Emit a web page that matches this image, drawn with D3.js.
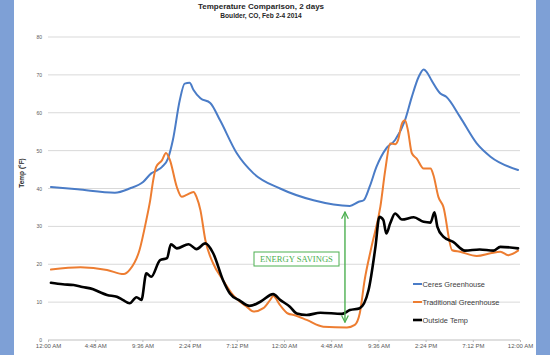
<!DOCTYPE html>
<html><head><meta charset="utf-8">
<script src="https://cdn.jsdelivr.net/npm/d3@7"></script>
<style>html,body{margin:0;padding:0;background:#7ea0d6;}svg{display:block;}</style>
</head><body>
<script>
const xTickLabels = ["12:00 AM","4:48 AM","9:36 AM","2:24 PM","7:12 PM","12:00 AM","4:48 AM","9:36 AM","2:24 PM","7:12 PM","12:00 AM"];
const yTicks = [0,10,20,30,40,50,60,70,80];
const seriesNames = ["Ceres Greenhouse","Traditional Greenhouse","Outside Temp"];

const ceresHours = [0.3,3,6.8,8.3,9.7,10.5,11.1,11.6,12.2,12.7,13.4,13.9,14.4,14.8,15.5,16.5,17.5,19.2,20.9,23.6,27.0,30.7,31.6,32.1,32.7,33.4,34.4,35.3,36.3,37.0,37.7,38.2,38.5,39.0,39.9,40.5,41.9,43.6,45.0,47.8];
const ceresTemps = [40.4,39.8,38.9,40.0,41.8,44.0,44.8,45.7,47.9,52.8,63.3,67.7,67.9,66.0,63.8,62.6,58.0,49.3,44.0,40.0,36.9,35.4,36.5,36.9,40.4,45.7,50.6,52.8,58.0,64.2,69.5,71.4,70.8,68.6,65.1,64.2,58.9,51.9,48.4,44.9];

const tradHours = [0.3,3.3,6.0,7.7,8.3,9.3,10.0,10.4,10.7,11.0,11.6,12.0,12.4,13.1,13.6,14.1,14.8,15.1,15.5,16.0,16.8,17.8,18.8,20.2,20.9,21.9,22.6,22.9,23.6,24.4,25.0,26.3,28.0,30.4,31.2,31.7,32.2,32.9,33.8,34.3,34.8,35.3,35.6,36.0,36.3,36.6,37.0,37.5,38.2,38.9,39.2,39.7,40.2,41.1,41.9,43.6,45.0,46.0,46.8,47.8];
const tradTemps = [18.6,19.2,18.5,17.4,18.5,23.7,31.7,37.0,42.2,45.7,47.5,49.4,47.5,40.4,37.8,38.3,39.1,37.8,34.3,26.4,20.2,15.8,11.9,8.8,7.5,8.4,10.6,11.6,9.2,7.0,6.6,5.3,3.5,3.3,4.0,7.0,15.8,24.6,35.2,44.9,51.9,51.7,52.8,57.2,58.0,55.4,49.3,47.9,45.3,45.3,43.5,37.8,35.2,23.7,23.3,22.2,22.9,23.3,22.4,23.6];

const outHours = [0.3,1.5,2.6,3.5,4.6,5.3,6.0,7.0,7.6,8.3,9.0,9.5,10.0,10.5,11.4,12.1,12.5,13.1,14.3,15.1,16.0,16.8,17.8,18.5,19.5,20.5,21.6,22.9,23.6,24.6,25.3,26.3,27.7,29.9,30.7,31.7,32.6,33.3,33.7,34.1,34.4,34.8,35.3,36.0,37.2,38.2,38.9,39.3,39.6,40.2,41.2,42.4,43.9,45.3,46.0,47.8];
const outTemps = [15.1,14.7,14.5,14.0,13.4,12.6,11.9,11.4,10.6,9.7,11.3,10.6,17.6,16.7,21.1,21.6,25.3,24.2,25.3,24.0,25.5,22.9,15.8,12.3,10.4,9.0,10.1,12.1,10.6,8.8,7.0,6.6,7.2,6.9,7.9,8.4,13.2,24.6,32.5,31.7,28.1,30.8,33.4,31.8,32.4,31.2,31.0,33.7,29.9,27.3,25.9,23.6,23.9,23.6,24.6,24.2];

const savingsLabel = "ENERGY SAVINGS";
const savingsHour = 30.2;
const savingsRange = [33.8, 4.7];

const W = 550, H = 355;
const svg = d3.select("body").append("svg").attr("width", W).attr("height", H);

svg.append("rect").attr("x",0).attr("y",0).attr("width",W).attr("height",H).attr("fill","#7ea0d6");
svg.append("rect").attr("x",14).attr("y",0).attr("width",522).attr("height",H).attr("fill","#ffffff");

const x = d3.scaleLinear().domain([0,48]).range([48,520]);
const y = d3.scaleLinear().domain([0,80]).range([340,37]);

// gridlines
svg.append("g").selectAll("line").data(yTicks).join("line")
  .attr("x1", x(0)).attr("x2", x(48))
  .attr("y1", d=>y(d)).attr("y2", d=>y(d))
  .attr("stroke", d=> d===0 ? "#bfbfbf" : "#d9d9d9").attr("stroke-width",1);

// y axis labels
svg.append("g").selectAll("text").data(yTicks).join("text")
  .attr("x", 42).attr("y", d=>y(d)+2)
  .attr("text-anchor","end").attr("font-family","Liberation Sans, Arial, sans-serif")
  .attr("font-size","5px").attr("fill","#595959").text(d=>d);

// x axis
const xAxis = d3.axisBottom(x).tickValues(d3.range(0,48.01,4.8)).tickSize(2)
  .tickFormat((d,i)=>xTickLabels[i]);
const gx = svg.append("g").attr("transform",`translate(0,${y(0)})`).call(xAxis);
gx.select(".domain").remove();
gx.selectAll(".tick line").attr("stroke","#bfbfbf");
gx.selectAll(".tick text").attr("font-family","Liberation Sans, Arial, sans-serif")
  .attr("font-size","6px").attr("fill","#595959").attr("dy","0").attr("y",8);

// titles
svg.append("text").attr("x",261).attr("y",9).attr("text-anchor","middle")
  .attr("font-family","Liberation Sans, Arial, sans-serif").attr("font-weight","bold")
  .attr("font-size","8px").attr("fill","#262626").text("Temperature Comparison, 2 days");
svg.append("text").attr("x",261).attr("y",17.5).attr("text-anchor","middle")
  .attr("font-family","Liberation Sans, Arial, sans-serif").attr("font-weight","bold")
  .attr("font-size","6.6px").attr("fill","#262626").text("Boulder, CO, Feb 2-4 2014");
svg.append("text").attr("transform","translate(24,173) rotate(-90)").attr("text-anchor","middle")
  .attr("font-family","Liberation Sans, Arial, sans-serif").attr("font-weight","bold")
  .attr("font-size","6.5px").attr("fill","#262626").text("Temp (°F)");

const line = d3.line().x(d=>x(d[0])).y(d=>y(d[1])).curve(d3.curveMonotoneX);
const series = [
  {name: seriesNames[0], data: d3.zip(ceresHours, ceresTemps), color:"#4a7cc7", w:2},
  {name: seriesNames[1], data: d3.zip(tradHours, tradTemps), color:"#ed7d31", w:2},
  {name: seriesNames[2], data: d3.zip(outHours, outTemps), color:"#000000", w:2.6}
];
svg.append("g").selectAll("path").data(series).join("path")
  .attr("d", d=>line(d.data)).attr("fill","none")
  .attr("stroke", d=>d.color).attr("stroke-width", d=>d.w)
  .attr("stroke-linejoin","round").attr("stroke-linecap","round");

// legend
const lg = svg.append("g").selectAll("g").data(series).join("g")
  .attr("transform",(d,i)=>`translate(413,${284 + i*18})`);
lg.append("line").attr("x1",0).attr("x2",9).attr("y1",0).attr("y2",0)
  .attr("stroke",d=>d.color).attr("stroke-width",d=>d.w);
lg.append("text").attr("x",9.5).attr("y",2.5)
  .attr("font-family","Liberation Sans, Arial, sans-serif").attr("font-size","7.4px")
  .attr("fill","#404040").text(d=>d.name);

// energy savings annotation
const green = "#4caf50";
const defs = svg.append("defs");
defs.append("marker").attr("id","ah").attr("viewBox","0 0 10 10").attr("refX",9).attr("refY",5)
  .attr("markerWidth",6).attr("markerHeight",6).attr("orient","auto-start-reverse")
  .append("path").attr("d","M1,1 L9,5 L1,9").attr("fill","none").attr("stroke",green).attr("stroke-width",1.5);
svg.append("line").attr("x1",x(savingsHour)).attr("x2",x(savingsHour))
  .attr("y1",y(savingsRange[0])).attr("y2",y(savingsRange[1]))
  .attr("stroke",green).attr("stroke-width",1.4)
  .attr("marker-start","url(#ah)").attr("marker-end","url(#ah)");
svg.append("rect").attr("x",254).attr("y",252).attr("width",85).attr("height",14)
  .attr("fill","#ffffff").attr("stroke",green).attr("stroke-width",1);
svg.append("text").attr("x",296.5).attr("y",262.3).attr("text-anchor","middle")
  .attr("font-family","Liberation Serif, Times New Roman, serif").attr("font-size","8.6px")
  .attr("fill",green).text(savingsLabel);
</script>
</body></html>
